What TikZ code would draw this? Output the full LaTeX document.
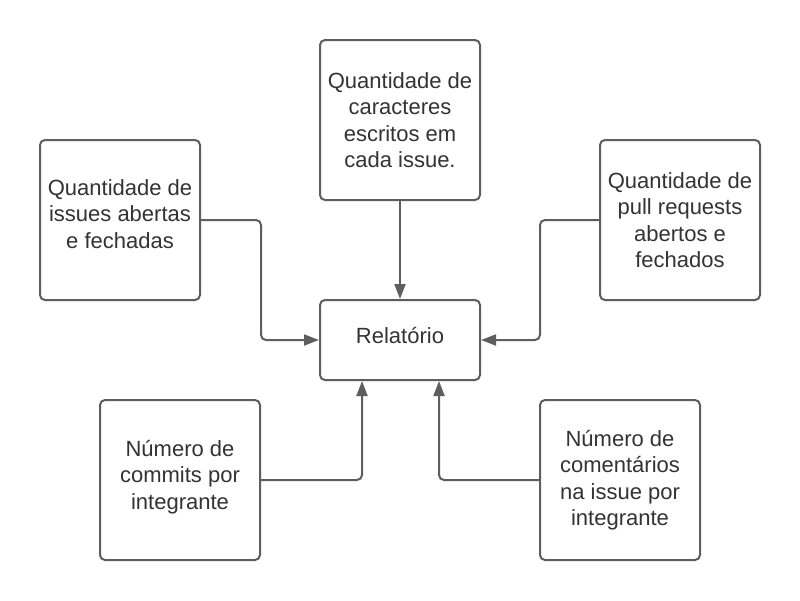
\documentclass[tikz,border=0pt]{standalone}
\usepackage{fontspec}
\setmainfont{Liberation Sans}
\usetikzlibrary{arrows.meta}
\definecolor{linec}{HTML}{5E5E5E}
\definecolor{txtc}{HTML}{333333}
\begin{document}
\begin{tikzpicture}[x=1pt,y=-1pt,
  box/.style={draw=linec, line width=2pt, rounded corners=5pt, fill=white,
    minimum width=160pt, minimum height=160pt, inner sep=0pt},
  txt/.style={text=txtc, font=\fontsize{22}{26.5}\selectfont, align=center, inner sep=0pt},
  conn/.style={draw=linec, line width=2pt, rounded corners=5pt,
    -{Triangle[length=15pt,width=11pt]}}]
\useasboundingbox (0,0) rectangle (800,600);
\fill[white] (0,0) rectangle (800,600);

\node[box, label={[txt]center:{Quantidade de\\caracteres\\escritos em\\cada issue.}}] (t) at (400,120) {};
\node[box, label={[txt,yshift=6pt]center:{Quantidade de\\issues abertas\\e fechadas}}] (l) at (120,220) {};
\node[box, label={[txt]center:{Quantidade de\\pull requests\\abertos e\\fechados}}] (r) at (680,220) {};
\node[box, minimum height=80pt, label={[txt,yshift=4pt]center:{Relatório}}] (c) at (400,340) {};
\node[box, label={[txt,yshift=3pt]center:{Número de\\commits por\\integrante}}] (bl) at (180,480) {};
\node[box, label={[txt]center:{Número de\\comentários\\na issue por\\integrante}}] (br) at (620,480) {};

\draw[conn] (t.south) -- (c.north);
\draw[conn] (l.east) -- ++(60,0) |- (c.west);
\draw[conn] (r.west) -- ++(-59,0) |- (c.east);
\draw[conn] (bl.east) -| ([xshift=-38pt]c.south);
\draw[conn] (br.west) -| ([xshift=39pt]c.south);
\end{tikzpicture}
\end{document}
